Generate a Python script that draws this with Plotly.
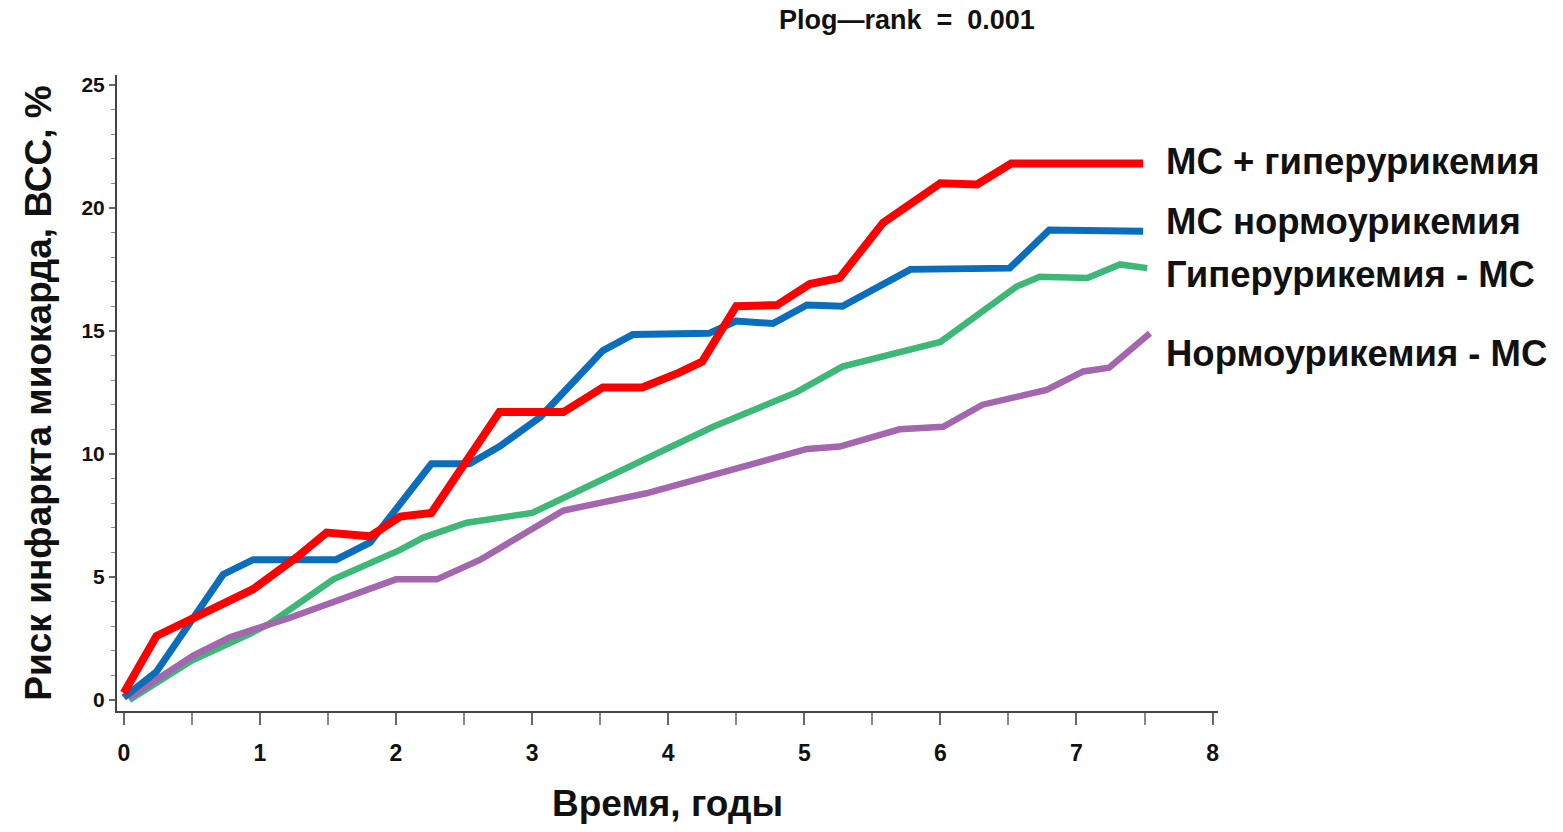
import plotly.graph_objects as go

# ---- data ----
red_name = "МС + гиперурикемия"
red_x = [0, 0.24, 0.95, 1.27, 1.49, 1.81, 2.03, 2.26, 2.76, 3.23, 3.52, 3.81, 4.08, 4.25, 4.5, 4.8, 5.04, 5.26, 5.58, 6.0, 6.27, 6.52, 7.49]
red_y = [0.28, 2.6, 4.5, 5.8, 6.8, 6.65, 7.45, 7.6, 11.7, 11.7, 12.7, 12.7, 13.3, 13.75, 16.0, 16.05, 16.9, 17.15, 19.4, 21.0, 20.95, 21.8, 21.8]

blue_name = "МС нормоурикемия"
blue_x = [0, 0.24, 0.73, 0.95, 1.56, 1.81, 2.26, 2.54, 2.76, 3.06, 3.52, 3.74, 4.3, 4.5, 4.77, 5.02, 5.28, 5.78, 6.51, 6.8, 7.49]
blue_y = [0.1, 1.15, 5.1, 5.7, 5.7, 6.4, 9.6, 9.6, 10.3, 11.5, 14.2, 14.85, 14.9, 15.4, 15.3, 16.05, 16.0, 17.5, 17.55, 19.1, 19.05]

green_name = "Гиперурикемия - МС"
green_x = [0.04, 0.5, 0.93, 1.07, 1.54, 2.03, 2.2, 2.52, 3.0, 3.25, 3.84, 4.33, 4.94, 5.28, 6.0, 6.56, 6.73, 7.08, 7.32, 7.52]
green_y = [0.0, 1.6, 2.7, 3.1, 4.9, 6.1, 6.6, 7.2, 7.6, 8.25, 9.8, 11.1, 12.5, 13.55, 14.55, 16.8, 17.2, 17.15, 17.7, 17.55]

purple_name = "Нормоурикемия - МС"
purple_x = [0.04, 0.51, 0.78, 1.05, 1.2, 2.0, 2.3, 2.62, 3.23, 3.84, 4.33, 5.02, 5.26, 5.7, 6.02, 6.31, 6.78, 7.05, 7.24, 7.54]
purple_y = [0.1, 1.8, 2.55, 3.0, 3.3, 4.9, 4.9, 5.7, 7.7, 8.4, 9.15, 10.2, 10.3, 11.0, 11.1, 12.0, 12.6, 13.35, 13.5, 14.9]

x_ticks = [0, 1, 2, 3, 4, 5, 6, 7, 8]
y_ticks = [0, 5, 10, 15, 20, 25]

title_text = "Plog\u2014rank  =  0.001"
x_title = "Время, годы"
y_title = "Риск инфаркта миокарда, ВСС, %"

FONT = "Liberation Sans, Arial, sans-serif"

fig = go.Figure()
series = [
    (green_name, green_x, green_y, "#3DB877", 6.5),
    (purple_name, purple_x, purple_y, "#A466AE", 6.5),
    (blue_name, blue_x, blue_y, "#0A6EBD", 7),
    (red_name, red_x, red_y, "#FF0000", 8),
]
for name, xs, ys, col, w in series:
    fig.add_trace(go.Scatter(x=xs, y=ys, mode="lines", name=name,
                             line=dict(color=col, width=w),
                             showlegend=False))

# end labels
label_y = {red_name: 21.87, blue_name: 19.45, green_name: 17.3, purple_name: 14.1}
for name in [red_name, blue_name, green_name, purple_name]:
    fig.add_annotation(x=7.64, y=label_y[name], xref="x", yref="y",
                       text=name, showarrow=False, xanchor="left", yanchor="middle",
                       font=dict(family=FONT, size=36.5, color="#111", weight="bold"))

fig.add_annotation(x=0.7175, y=1.087, xref="paper", yref="paper",
                   text=title_text, showarrow=False, xanchor="center", yanchor="middle",
                   font=dict(family=FONT, size=27, color="#111", weight="bold"))

fig.update_layout(
    width=1563, height=832,
    margin=dict(l=117, r=345, t=75, b=121),
    paper_bgcolor="white", plot_bgcolor="white",
    font=dict(family=FONT, color="#111"),
)
fig.update_xaxes(
    range=[-0.05, 8.04], tickvals=x_ticks, ticks="outside", ticklen=12, tickwidth=1.5,
    tickcolor="#666", showline=True, linecolor="#444", linewidth=2, showgrid=False, zeroline=False,
    tickfont=dict(family=FONT, size=23, color="#111", weight="bold"),
    ticklabelstandoff=8,
    minor=dict(dtick=0.5, ticks="outside", ticklen=12, tickwidth=1.5, tickcolor="#888"),
    title=dict(text=x_title, font=dict(family=FONT, size=37, color="#111", weight="bold"), standoff=26),
)
fig.update_yaxes(
    range=[-0.45, 25.4], tickvals=y_ticks, ticks="outside", ticklen=6, tickwidth=1.5,
    tickcolor="#666", showline=True, linecolor="#444", linewidth=2, showgrid=False, zeroline=False,
    tickfont=dict(family=FONT, size=21, color="#111", weight="bold"),
    minor=dict(dtick=1, ticks="outside", ticklen=4, tickwidth=1, tickcolor="#888"),
    title=dict(text=y_title, font=dict(family=FONT, size=37, color="#111", weight="bold"), standoff=18),
)

fig.write_html("out.html")
